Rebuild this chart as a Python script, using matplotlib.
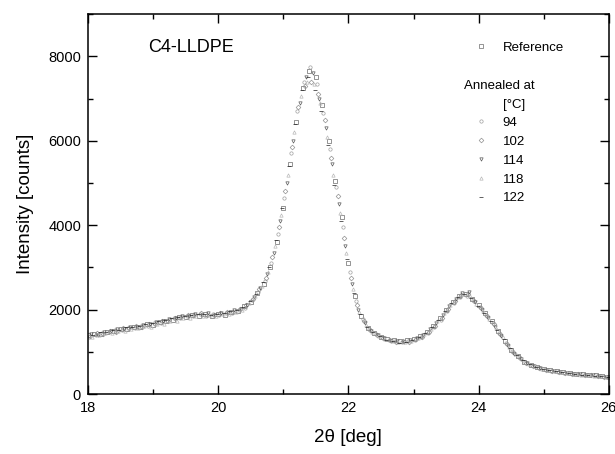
import numpy as np
import matplotlib.pyplot as plt
from matplotlib.lines import Line2D
from matplotlib.ticker import MultipleLocator

plt.rcParams['font.family'] = ['Liberation Sans', 'DejaVu Sans']

# scan grid (deg), one scan per sample, each slightly shifted in start angle
step = 0.1
n_pts = 81
scan_start = [18.000, 18.017, 18.033, 18.050, 18.067, 18.083]

labels = ['Reference', '94', '102', '114', '118', '122']

# intensities [counts]
I_ref = [1400, 1430, 1420, 1480, 1490, 1540, 1540, 1590, 1590, 1650,
         1640, 1700, 1740, 1760, 1830, 1830, 1880, 1850, 1890, 1860,
         1900, 1880, 1950, 1960, 2080, 2180, 2400, 2600, 3020, 3600,
         4400, 5450, 6450, 7250, 7650, 7500, 6850, 6000, 5050, 4200,
         3100, 2320, 1850, 1570, 1450, 1360, 1300, 1270, 1260, 1270,
         1300, 1370, 1480, 1620, 1800, 2000, 2180, 2330, 2380, 2260,
         2100, 1920, 1730, 1490, 1250, 1040, 890, 770, 690, 640,
         600, 570, 540, 520, 500, 485, 470, 455, 445, 430, 415]

I_94 = [1360, 1400, 1450, 1460, 1510, 1510, 1570, 1570, 1620, 1620,
        1680, 1680, 1720, 1790, 1790, 1860, 1850, 1900, 1860, 1900,
        1870, 1920, 1920, 2000, 2050, 2220, 2420, 2680, 3100, 3800,
        4650, 5700, 6700, 7400, 7750, 7350, 6650, 5800, 4900, 3950,
        2900, 2200, 1780, 1540, 1420, 1340, 1280, 1250, 1230, 1250,
        1290, 1350, 1450, 1590, 1760, 1960, 2150, 2290, 2330, 2230,
        2060, 1880, 1690, 1450, 1220, 1010, 870, 750, 680, 630,
        590, 555, 530, 510, 490, 475, 460, 450, 435, 420, 405]

I_102 = [1380, 1440, 1430, 1500, 1480, 1560, 1560, 1610, 1580, 1670,
         1660, 1720, 1720, 1800, 1820, 1880, 1870, 1920, 1880, 1880,
         1910, 1940, 1940, 2020, 2100, 2260, 2480, 2750, 3250, 3950,
         4800, 5850, 6800, 7300, 7400, 7100, 6500, 5600, 4700, 3700,
         2750, 2100, 1720, 1520, 1400, 1330, 1270, 1240, 1250, 1240,
         1310, 1340, 1470, 1620, 1790, 2010, 2200, 2340, 2360, 2200,
         2040, 1850, 1650, 1420, 1190, 990, 850, 740, 670, 620,
         580, 550, 525, 505, 485, 470, 455, 445, 430, 415, 400]

I_114 = [1420, 1410, 1470, 1490, 1530, 1530, 1580, 1600, 1640, 1650,
         1700, 1720, 1770, 1790, 1850, 1840, 1900, 1880, 1910, 1870,
         1920, 1920, 1980, 2020, 2120, 2300, 2520, 2850, 3350, 4100,
         5000, 6000, 6900, 7500, 7600, 7000, 6300, 5450, 4500, 3500,
         2600, 2000, 1680, 1500, 1390, 1320, 1260, 1250, 1240, 1270,
         1320, 1400, 1530, 1690, 1880, 2080, 2260, 2400, 2420, 2180,
         2000, 1800, 1600, 1380, 1150, 960, 830, 730, 660, 610,
         575, 545, 520, 500, 480, 465, 450, 440, 425, 410, 395]

I_118 = [1350, 1390, 1440, 1450, 1500, 1500, 1550, 1560, 1610, 1600,
         1660, 1660, 1730, 1740, 1800, 1810, 1860, 1850, 1880, 1850,
         1890, 1900, 1950, 1990, 2150, 2330, 2560, 2900, 3500, 4250,
         5200, 6200, 7050, 7400, 7350, 6900, 6100, 5200, 4300, 3350,
         2500, 1950, 1640, 1480, 1380, 1300, 1250, 1230, 1240, 1260,
         1330, 1420, 1550, 1720, 1920, 2120, 2290, 2380, 2320, 2130,
         1960, 1770, 1560, 1340, 1120, 940, 820, 720, 655, 605,
         570, 540, 515, 495, 478, 462, 448, 436, 422, 408, 392]

I_122 = [1400, 1460, 1460, 1520, 1520, 1580, 1600, 1620, 1660, 1680,
         1720, 1760, 1800, 1820, 1860, 1880, 1890, 1900, 1880, 1900,
         1930, 1960, 2000, 2060, 2200, 2380, 2650, 3000, 3650, 4400,
         5400, 6400, 7200, 7500, 7200, 6700, 5900, 4950, 4100, 3200,
         2400, 1900, 1600, 1460, 1370, 1290, 1250, 1220, 1240, 1280,
         1350, 1450, 1590, 1760, 1960, 2150, 2310, 2370, 2280, 2090,
         1920, 1730, 1520, 1300, 1100, 920, 800, 710, 650, 600,
         565, 535, 512, 492, 475, 458, 445, 432, 418, 404, 390]

intens = [I_ref, I_94, I_102, I_114, I_118, I_122]

markers = ['s', 'o', 'D', 'v', '^', '_']
mcolors = ['#6a6a6a', '#a0a0a0', '#909090', '#5a5a5a', '#b8b8b8', '#202020']

fig = plt.figure(figsize=(6.15, 4.54), dpi=100)
ax = fig.add_axes([0.143, 0.132, 0.847, 0.837])

handles = []
for x0, y, m, c, lab in zip(scan_start, intens, markers, mcolors, labels):
    x = x0 + step*np.arange(n_pts)
    h, = ax.plot(x, y, linestyle='none', marker=m, ms=2.4, mfc='none',
                 mec=c, mew=0.5, label=lab)
    handles.append(h)

ax.set_xlim(18, 26)
ax.set_ylim(0, 9000)
ax.xaxis.set_major_locator(MultipleLocator(2))
ax.xaxis.set_minor_locator(MultipleLocator(1))
ax.yaxis.set_major_locator(MultipleLocator(2000))
ax.yaxis.set_minor_locator(MultipleLocator(1000))
ax.tick_params(which='both', direction='in', top=True, right=True,
               labelsize=10.5, width=1.0)
ax.tick_params(which='major', length=6.5, pad=5)
ax.tick_params(which='minor', length=3.5)
for s in ax.spines.values():
    s.set_linewidth(1.1)

ax.set_xlabel('2θ [deg]', fontsize=13.5, labelpad=10)
ax.set_ylabel('Intensity [counts]', fontsize=13.5, labelpad=10)

ax.text(0.115, 0.913, 'C4-LLDPE', transform=ax.transAxes, fontsize=13,
        va='center', ha='left')

blank = Line2D([], [], linestyle='none')
leg_h = [handles[0], blank, blank, blank] + handles[1:]
leg_l = ['Reference', ' ', ' ', ' '] + labels[1:]
ax.legend(leg_h, leg_l, loc='upper left', bbox_to_anchor=(0.72, 0.959),
          frameon=False, fontsize=9.5, handlelength=1.0, handletextpad=1.1,
          labelspacing=0.5, markerscale=1.0)
ax.text(0.722, 0.810, 'Annealed at', transform=ax.transAxes, fontsize=9.5,
        va='center', ha='left')
ax.text(0.797, 0.760, '[°C]', transform=ax.transAxes, fontsize=9.5,
        va='center', ha='left')

fig.savefig('out.png', dpi=100)
